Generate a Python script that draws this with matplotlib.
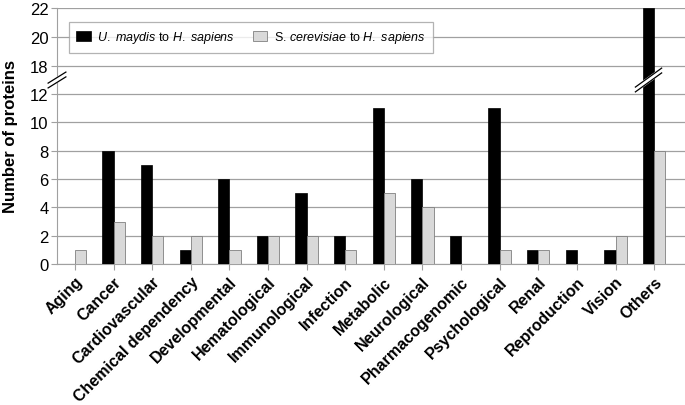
import matplotlib
matplotlib.use('Agg')
import matplotlib.pyplot as plt
import numpy as np

plt.rcParams['font.family'] = ['Liberation Sans', 'DejaVu Sans']
plt.rcParams['mathtext.fontset'] = 'custom'
plt.rcParams['mathtext.it'] = 'Liberation Sans:italic'
plt.rcParams['mathtext.rm'] = 'Liberation Sans'

categories = ['Aging', 'Cancer', 'Cardiovascular', 'Chemical dependency',
              'Developmental', 'Hematological', 'Immunological', 'Infection',
              'Metabolic', 'Neurological', 'Pharmacogenomic', 'Psychological',
              'Renal', 'Reproduction', 'Vision', 'Others']
maydis = [0, 8, 7, 1, 6, 2, 5, 2, 11, 6, 2, 11, 1, 1, 1, 22]
cerevisiae = [1, 3, 2, 2, 1, 2, 2, 1, 5, 4, 0, 1, 1, 0, 2, 8]
label_maydis = r'$\it{U.\ maydis}$ to $\it{H.\ sapiens}$'
label_cerev = r'S. $\it{cerevisiae}$ to $\it{H.\ sapiens}$'

W, H = 685, 406
fig = plt.figure(figsize=(W / 100, H / 100), dpi=100)
left = 57 / W
width = 1 - left
ax_top = fig.add_axes([left, (H - 81) / H, width, 72 / H])
ax_bot = fig.add_axes([left, (H - 265) / H, width, 184 / H])

x = np.arange(len(categories))
w = 0.29
grid_c = '#a0a0a0'

for ax in (ax_top, ax_bot):
    ax.bar(x - w / 2, maydis, w, color='black', edgecolor='black', linewidth=0.5,
           label=label_maydis, zorder=3)
    ax.bar(x + w / 2, cerevisiae, w, color='#d9d9d9', edgecolor='#808080',
           linewidth=0.6, label=label_cerev, zorder=3)
    ax.set_xlim(-0.466, 15.8)
    for s in ('top', 'right', 'bottom'):
        ax.spines[s].set_visible(False)
    ax.spines['left'].set_color(grid_c)
    ax.tick_params(axis='y', length=4, color=grid_c, labelsize=12, pad=2)
    ax.grid(axis='y', color=grid_c, linewidth=0.9, zorder=0)

ax_top.set_ylim(17, 22)
ax_top.set_yticks([18, 20, 22])
ax_top.set_xticks([])

ax_bot.set_ylim(0, 13)
ax_bot.set_yticks(range(0, 13, 2))
ax_bot.spines['bottom'].set_visible(True)
ax_bot.spines['bottom'].set_color(grid_c)
ax_bot.set_xticks(x)
ax_bot.set_xticklabels(categories, rotation=45, ha='right', rotation_mode='anchor',
                       fontsize=11.5, fontweight='bold')
ax_bot.tick_params(axis='x', length=4, color=grid_c, pad=3)

fig.text(11 / W, 1 - 137 / H, 'Number of proteins', rotation=90, ha='center',
         va='center', fontsize=12, fontweight='bold')

leg = ax_top.legend(loc='upper left', bbox_to_anchor=(0.019, 0.806), ncol=2,
                    fontsize=9.0, frameon=True, fancybox=False, edgecolor=grid_c,
                    handlelength=1.15, handleheight=0.8, columnspacing=1.45,
                    borderpad=0.6, handletextpad=0.5, borderaxespad=0)
leg.get_frame().set_linewidth(0.9)

# break marks: y axis and the Others bar
def brk(xc, dx, dy):
    xs = [xc - dx, xc + dx]
    ys = [13 - dy, 13 + dy]
    ax_bot.plot(xs, ys, color='white', lw=4, clip_on=False, zorder=5,
                solid_capstyle='butt')
    for off in (-0.17, 0.17):
        ax_bot.plot(xs, [v + off for v in ys], color='black', lw=0.9,
                    clip_on=False, zorder=6)

brk(-0.466, 0.23, 0.39)
brk(15 - w / 2, 0.34, 0.67)

fig.savefig('out.png', dpi=100)
